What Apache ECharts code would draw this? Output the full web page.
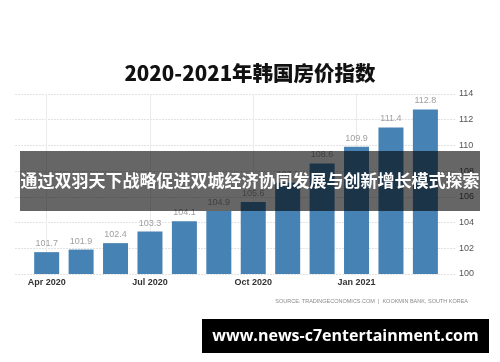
<!DOCTYPE html>
<html>
<head>
<meta charset="utf-8">
<script src="https://cdn.jsdelivr.net/npm/echarts@6/dist/echarts.min.js"></script>
<style>html,body{margin:0;padding:0;background:#fff}#c{width:500px;height:362px}</style>
</head>
<body>
<div id="c"></div>
<script>
const months = ['Apr 2020','May 2020','Jun 2020','Jul 2020','Aug 2020','Sep 2020','Oct 2020','Nov 2020','Dec 2020','Jan 2021','Feb 2021','Mar 2021'];
const values = [101.7, 101.9, 102.4, 103.3, 104.1, 104.9, 105.6, 107.1, 108.6, 109.9, 111.4, 112.8];
const xTickIndex = [0, 3, 6, 9];
const xTickLabels = ['Apr 2020', 'Jul 2020', 'Oct 2020', 'Jan 2021'];
const yTicks = [100, 102, 104, 106, 108, 110, 112, 114];
const titleText = '2020-2021年韩国房价指数';
const bannerText = '通过双羽天下战略促进双城经济协同发展与创新增长模式探索';
const sourceText = 'SOURCE: TRADINGECONOMICS.COM  |  KOOKMIN BANK, SOUTH KOREA';
const watermarkText = 'www.news-c7entertainment.com';

const chart = echarts.init(document.getElementById('c'), null, {renderer: 'canvas'});
const option = {
  animation: false,
  backgroundColor: '#fff',
  title: {
    text: titleText, left: 'center', top: 58,
    textStyle: {fontFamily: 'Noto Sans CJK SC', fontSize: 20.5, fontWeight: 900, color: '#111'}
  },
  grid: {left: 15, right: 45, top: 94, bottom: 88, containLabel: false},
  xAxis: {
    type: 'value', min: -0.92, max: 11.86,
    axisLine: {show: false}, axisTick: {show: false}, splitLine: {show: false},
    axisLabel: {
      customValues: xTickIndex,
      formatter: v => xTickLabels[xTickIndex.indexOf(v)] || '',
      color: '#333', fontSize: 9, fontWeight: 'bold', margin: 4, fontFamily: 'Liberation Sans'
    }
  },
  yAxis: {
    type: 'value', position: 'right', min: yTicks[0], max: yTicks[yTicks.length-1], interval: 2,
    axisLine: {show: false}, axisTick: {show: false},
    splitLine: {lineStyle: {color: '#e2e2e2', type: [2, 1], width: 1}},
    axisLabel: {color: '#555', fontSize: 9, margin: 4, fontFamily: 'Liberation Sans'}
  },
  series: [{
    type: 'bar',
    data: values.map((v, i) => [i, v]),
    barWidth: 25,
    itemStyle: {color: '#4682b4'},
    label: {show: true, position: 'top', distance: 4, color: '#a0a0a0', fontSize: 9, fontFamily: 'Liberation Sans',
      formatter: p => p.value[1].toFixed(1)},
    markLine: {
      silent: true, symbol: 'none', label: {show: false},
      lineStyle: {color: '#ebebeb', type: 'solid', width: 1},
      data: xTickIndex.map(i => ({xAxis: i})),
      z: 0
    },
    z: 2
  }],
  graphic: [
    {type: 'text', right: 32, top: 298, z: 5,
      style: {text: sourceText, font: '5.5px "Liberation Sans"', fill: '#8a8a8a'}},
    {type: 'rect', shape: {x: 20, y: 151, width: 460, height: 60}, style: {fill: 'rgba(0,0,0,0.6)'}, z: 100},
    {type: 'text', x: 250, y: 181, z: 101,
      style: {text: bannerText, font: 'bold 17px "Noto Sans CJK SC"', fill: '#fff', align: 'center', verticalAlign: 'middle'}},
    {type: 'rect', shape: {x: 202, y: 319, width: 287, height: 34}, style: {fill: '#000'}, z: 100},
    {type: 'text', x: 345.5, y: 336, z: 101,
      style: {text: watermarkText, font: 'bold 16px "Open Sans"', fill: '#fff', align: 'center', verticalAlign: 'middle'}}
  ]
};
chart.setOption(option);
</script>
</body>
</html>
